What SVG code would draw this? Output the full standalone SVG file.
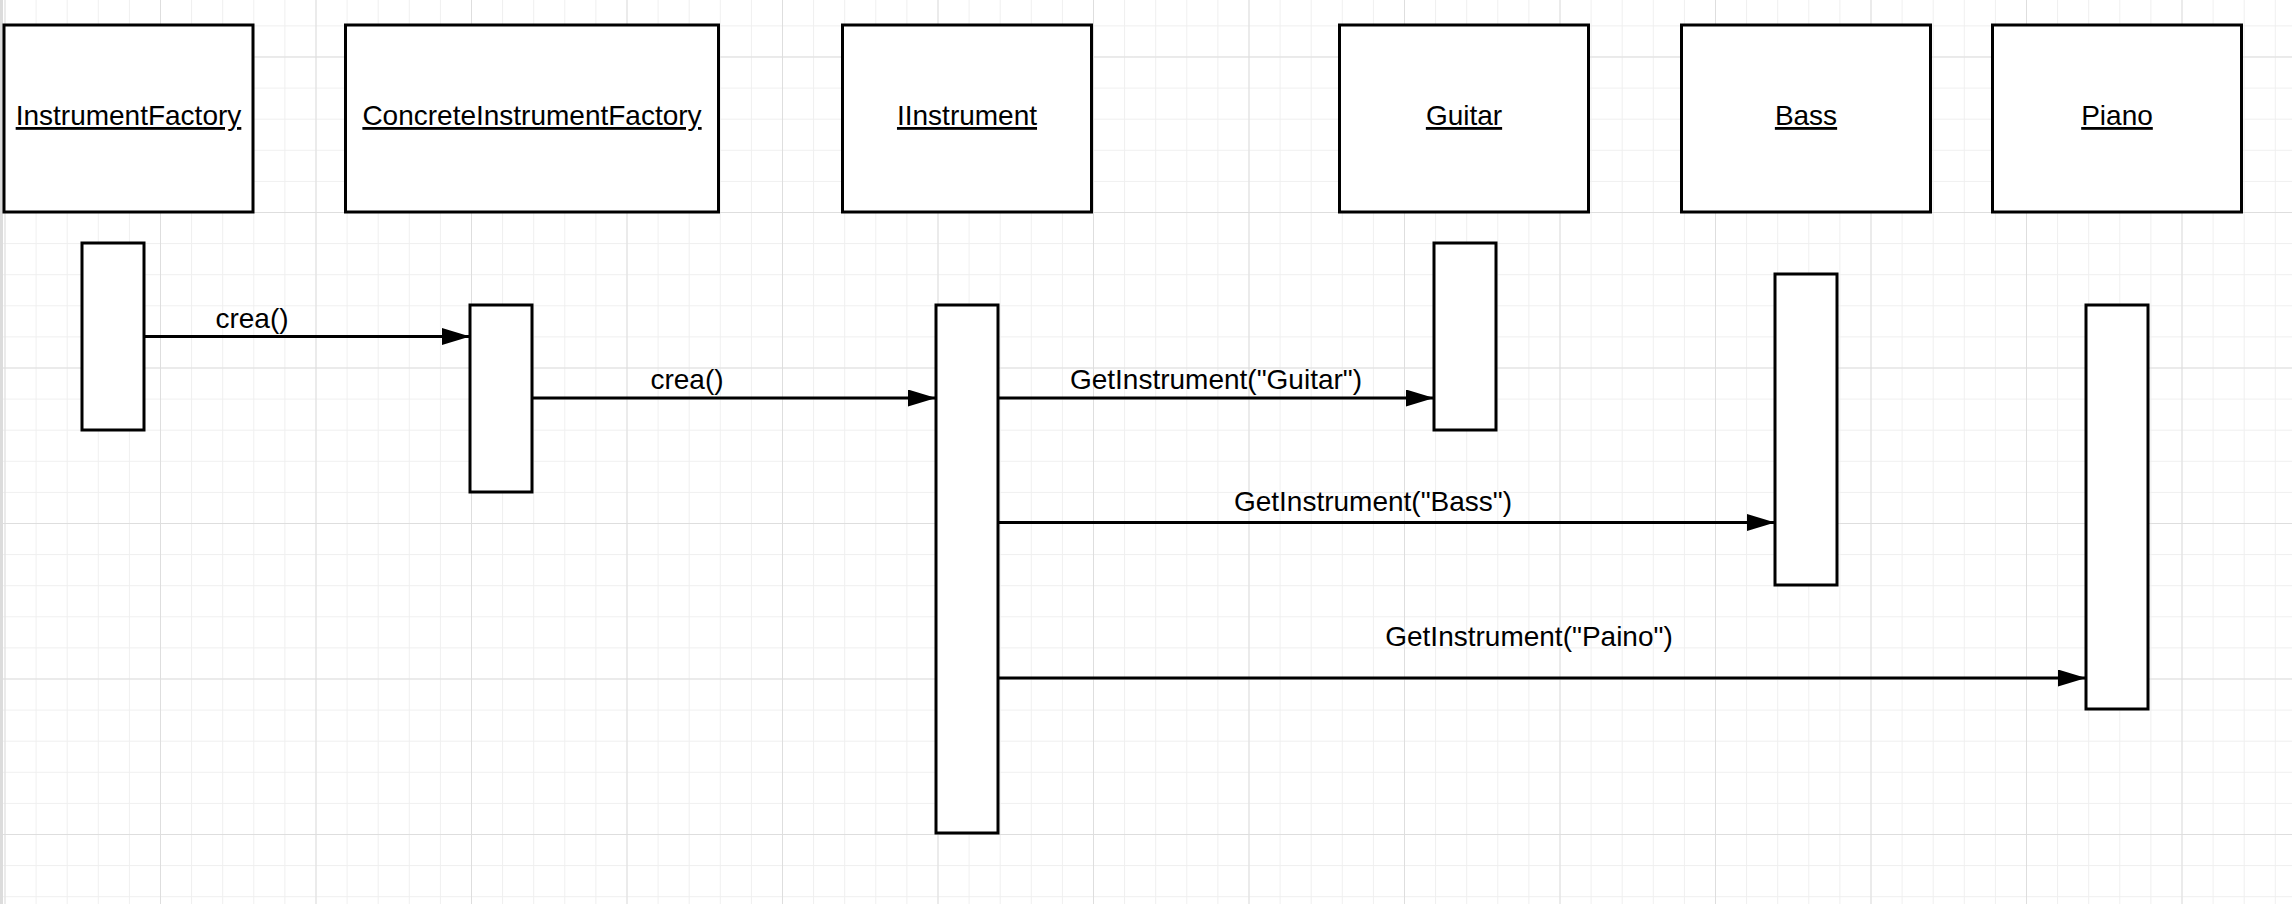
<svg xmlns="http://www.w3.org/2000/svg" width="2292" height="904" viewBox="0 0 2292 904">
<style>
.box{fill:#fff;stroke:#000;stroke-width:3}
.lbl{font-family:"Liberation Sans",Arial,sans-serif;font-size:28px;fill:#000;text-anchor:middle}
.u{text-decoration:underline}
.msg{stroke:#000;stroke-width:3;fill:none;marker-end:url(#arr)}
</style>
<defs>
<pattern id="minor" patternUnits="userSpaceOnUse" x="4.5" y="25.4" width="31.1" height="31.1">
<path d="M0,0.5 H31.1 M0.5,0 V31.1" stroke="#efefef" stroke-width="1" fill="none"/>
</pattern>
<pattern id="major" patternUnits="userSpaceOnUse" x="4.5" y="56.5" width="155.5" height="155.5">
<path d="M0,0.5 H155.5 M0.5,0 V155.5" stroke="#dedede" stroke-width="1" fill="none"/>
</pattern>
<marker id="arr" markerUnits="userSpaceOnUse" markerWidth="28" markerHeight="17" refX="28" refY="8.5" orient="auto">
<path d="M0,0 L28,8.5 L0,17 Z" fill="#000"/>
</marker>
</defs>
<rect width="2292" height="904" fill="#fff"/>
<rect width="2292" height="904" fill="url(#minor)"/>
<rect width="2292" height="904" fill="url(#major)"/>
<rect x="0" y="0" width="3" height="904" fill="#dcdcdc"/>

<g id="InstrumentFactory">
<rect class="box" x="4" y="25" width="249" height="187"/>
<text class="lbl u" x="128.5" y="125">InstrumentFactory</text>
</g>
<g id="ConcreteInstrumentFactory">
<rect class="box" x="345.5" y="25" width="373" height="187"/>
<text class="lbl u" x="532" y="125">ConcreteInstrumentFactory</text>
</g>
<g id="IInstrument">
<rect class="box" x="842.5" y="25" width="249" height="187"/>
<text class="lbl u" x="967" y="125">IInstrument</text>
</g>
<g id="Guitar">
<rect class="box" x="1339.5" y="25" width="249" height="187"/>
<text class="lbl u" x="1464" y="125">Guitar</text>
</g>
<g id="Bass">
<rect class="box" x="1681.5" y="25" width="249" height="187"/>
<text class="lbl u" x="1806" y="125">Bass</text>
</g>
<g id="Piano">
<rect class="box" x="1992.5" y="25" width="249" height="187"/>
<text class="lbl u" x="2117" y="125">Piano</text>
</g>

<g id="act-InstrumentFactory"><rect class="box" x="82" y="243" width="62" height="187"/></g>
<g id="act-ConcreteInstrumentFactory"><rect class="box" x="470" y="305" width="62" height="187"/></g>
<g id="act-IInstrument"><rect class="box" x="936" y="305" width="62" height="528"/></g>
<g id="act-Guitar"><rect class="box" x="1434" y="243" width="62" height="187"/></g>
<g id="act-Bass"><rect class="box" x="1775" y="274" width="62" height="311"/></g>
<g id="act-Piano"><rect class="box" x="2086" y="305" width="62" height="404"/></g>

<g id="connectors">
<line class="msg" x1="144" y1="336.5" x2="470" y2="336.5"/>
<text class="lbl" x="252" y="328">crea()</text>
<line class="msg" x1="532" y1="398" x2="936" y2="398"/>
<text class="lbl" x="687" y="389">crea()</text>
<line class="msg" x1="998" y1="398" x2="1434" y2="398"/>
<text class="lbl" x="1216" y="389">GetInstrument("Guitar")</text>
<line class="msg" x1="998" y1="522.5" x2="1775" y2="522.5"/>
<text class="lbl" x="1373" y="511">GetInstrument("Bass")</text>
<line class="msg" x1="998" y1="678" x2="2086" y2="678"/>
<text class="lbl" x="1529" y="646">GetInstrument("Paino")</text>
</g>
</svg>
